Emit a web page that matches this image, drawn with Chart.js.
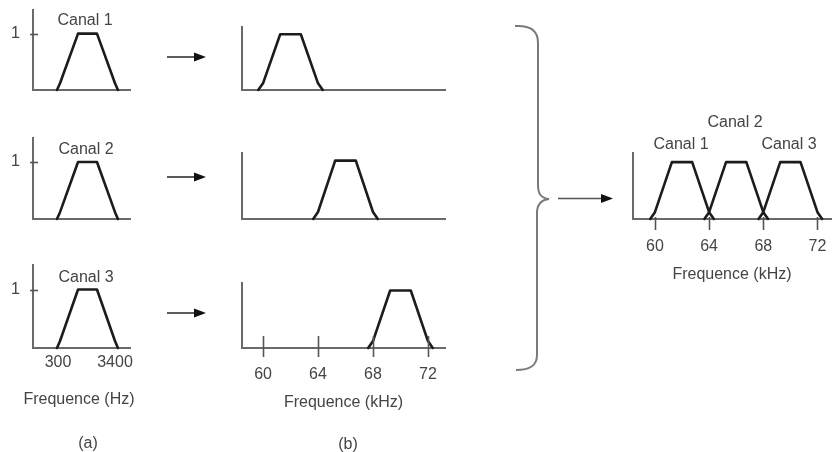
<!DOCTYPE html>
<html><head><meta charset="utf-8">
<script src="https://cdn.jsdelivr.net/npm/chart.js@4.4.1/dist/chart.umd.min.js"></script>
<style>
html,body{margin:0;padding:0;background:#fff;overflow:hidden;}
#stage{position:relative;width:832px;height:452px;overflow:hidden;font-family:"Liberation Sans",Arial,sans-serif;color:#444;}
#stage canvas{position:absolute;}
.lbl{position:absolute;transform:translate(-50%,-50%);font-size:16px;white-space:nowrap;line-height:1;}
#deco{position:absolute;left:0;top:0;}
</style></head><body>
<div id="stage">
<svg id="deco" width="832" height="452" viewBox="0 0 832 452">
  <g stroke="#333" stroke-width="1.6" fill="none">
    <line x1="167" y1="57" x2="197" y2="57"/>
    <line x1="167" y1="177" x2="197" y2="177"/>
    <line x1="167" y1="313" x2="197" y2="313"/>
  </g>
  <g fill="#111">
    <polygon points="194,52.5 206,57 194,61.5"/>
    <polygon points="194,172.5 206,177 194,181.5"/>
    <polygon points="194,308.5 206,313 194,317.5"/>
  </g>
  <path d="M515,26 C531,25 538,31 538,43 L538,185 C538,194 541,198 549,199 C541,200 537,204 537,213 L537,355 C537,365 531,370 516,370" stroke="#7a7a7a" stroke-width="2" fill="none"/>
  <line x1="558" y1="198.5" x2="603" y2="198.5" stroke="#555" stroke-width="1.6"/>
  <polygon points="601,194 613,198.5 601,203" fill="#111"/>
</svg>
</div>
<script>
// ---- data ----
const channelNames = ['Canal 1', 'Canal 2', 'Canal 3'];
const basebandHz = [245, 410, 1390, 2420, 3400, 3560];   // voice-band filter shape (Hz)
const hzTicks = [300, 3400];
const shapeLevel = [0, 0.12, 1, 1, 0.12, 0];             // relative amplitude at each shape point
const canal1kHz = [59.65, 60.0, 61.25, 62.75, 64.0, 64.35];
const canal2kHz = [63.65, 64.0, 65.25, 66.75, 68.0, 68.35];
const canal3kHz = [67.65, 68.0, 69.25, 70.75, 72.0, 72.35];
const khzTicks = [60, 64, 68, 72];
const unitTick = [1];
const axisTitleHz = 'Frequence (Hz)';
const axisTitleKHz = 'Frequence (kHz)';
const panelLabels = ['(a)', '(b)'];

const FONT = '"Liberation Sans", Arial, sans-serif';
const TXT = '#444';
const AXIS = '#6a6a6a';
const stage = document.getElementById('stage');

const crossTicksPlugin = {
  id: 'crossTicks',
  afterDatasetsDraw(chart, args, opts) {
    const ctx = chart.ctx, xs = chart.scales.x, ys = chart.scales.y, a = chart.chartArea;
    ctx.save();
    ctx.strokeStyle = '#555';
    ctx.lineWidth = 1.6;
    (opts.x || []).forEach(v => {
      const px = Math.round(xs.getPixelForValue(v)) + 0.5;
      ctx.beginPath(); ctx.moveTo(px, a.bottom - opts.up); ctx.lineTo(px, a.bottom + opts.down); ctx.stroke();
    });
    (opts.y || []).forEach(v => {
      const py = Math.round(ys.getPixelForValue(v)) + 0.5;
      ctx.beginPath(); ctx.moveTo(a.left - opts.left, py); ctx.lineTo(a.left + opts.right, py); ctx.stroke();
    });
    ctx.restore();
  }
};

function makeChart(cfg) {
  const [L, T, R, B] = cfg.area;
  const yW = cfg.yW, xH = cfg.xH, pT = 3, pR = cfg.pR != null ? cfg.pR : 3;
  const c = document.createElement('canvas');
  c.width = (R - L) + yW + pR;
  c.height = (B - T) + pT + xH;
  c.style.left = (L - yW) + 'px';
  c.style.top = (T - pT) + 'px';
  stage.insertBefore(c, document.getElementById('deco'));
  new Chart(c, {
    type: 'line',
    data: {
      datasets: cfg.series.map(xs => ({
        data: xs.map((x, i) => ({ x: x, y: shapeLevel[i] })),
        borderColor: '#1c1c1c', borderWidth: 2.6, pointRadius: 0, tension: 0,
        borderJoinStyle: 'round', borderCapStyle: 'round', clip: false, fill: false
      }))
    },
    options: {
      responsive: false, animation: false, events: [],
      layout: { padding: { top: pT, right: pR, left: 0, bottom: 0 } },
      plugins: { legend: { display: false }, tooltip: { enabled: false }, crossTicks: cfg.cross || {} },
      scales: {
        x: {
          type: 'linear', min: cfg.xmin, max: cfg.xmax,
          afterBuildTicks: s => { s.ticks = (cfg.xticks || []).map(v => ({ value: v })); },
          afterFit: s => { s.height = xH; s.paddingLeft = 0; s.paddingRight = 0; },
          grid: { drawOnChartArea: false, drawTicks: false },
          border: { display: true, color: AXIS, width: 2 },
          ticks: { font: { family: FONT, size: 16 }, color: TXT, padding: cfg.xpad || 0, maxRotation: 0, autoSkip: false, callback: v => String(v) },
          title: { display: !!cfg.xtitle, text: cfg.xtitle || '', font: { family: FONT, size: 16 }, color: TXT, padding: 0 }
        },
        y: {
          type: 'linear', min: 0, max: cfg.ymax,
          afterBuildTicks: s => { s.ticks = (cfg.yticks || []).map(v => ({ value: v })); },
          afterFit: s => { s.width = yW; s.paddingTop = 0; s.paddingBottom = 0; },
          grid: { drawOnChartArea: false, drawTicks: false },
          border: { display: true, color: AXIS, width: 2 },
          ticks: { font: { family: FONT, size: 16 }, color: TXT, padding: cfg.ypad || 0, callback: v => String(v) }
        }
      }
    },
    plugins: [crossTicksPlugin]
  });
}

// (a) baseband channels
const leftAreas = [[33, 10, 130, 90], [33, 138, 130, 219], [33, 265, 130, 348]];
leftAreas.forEach((area, i) => {
  const last = i === 2;
  makeChart({
    area, yW: 33, xH: last ? 30 : 4, ymax: 1.42, xmin: -1060, xmax: 4216,
    series: [basebandHz], yticks: unitTick, ypad: 13,
    xticks: last ? hzTicks : [], xpad: 5,
    cross: { y: unitTick, left: 3, right: 5 }
  });
});

// (b) translated channels
const midAreas = [[242, 27, 445, 90], [242, 153, 445, 219], [242, 283, 445, 348]];
const midSeries = [canal1kHz, canal2kHz, canal3kHz];
midAreas.forEach((area, i) => {
  const last = i === 2;
  makeChart({
    area, yW: 10, xH: last ? 64 : 4, ymax: 1.13, xmin: 58.47, xmax: 73.24,
    series: [midSeries[i]],
    xticks: last ? khzTicks : [], xpad: 17, xtitle: last ? axisTitleKHz : '',
    cross: last ? { x: khzTicks, up: 12, down: 9 } : {}
  });
});

// combined multiplex
makeChart({
  area: [633, 153, 831, 219], yW: 10, xH: 65, pR: 1, ymax: 1.16, xmin: 58.38, xmax: 73.0,
  series: [canal1kHz, canal2kHz, canal3kHz],
  xticks: khzTicks, xpad: 18, xtitle: axisTitleKHz,
  cross: { x: khzTicks, up: 2, down: 11 }
});

// text labels
function label(text, x, y) {
  const d = document.createElement('div');
  d.className = 'lbl'; d.textContent = text;
  d.style.left = x + 'px'; d.style.top = y + 'px';
  stage.appendChild(d);
}
label(channelNames[0], 85, 20);
label(channelNames[1], 86, 149);
label(channelNames[2], 86, 277);
label(channelNames[1], 735, 122);
label(channelNames[0], 681, 144);
label(channelNames[2], 789, 144);
label(axisTitleHz, 79, 399);
label(panelLabels[0], 88, 443);
label(panelLabels[1], 348, 444);
</script>
</body></html>
